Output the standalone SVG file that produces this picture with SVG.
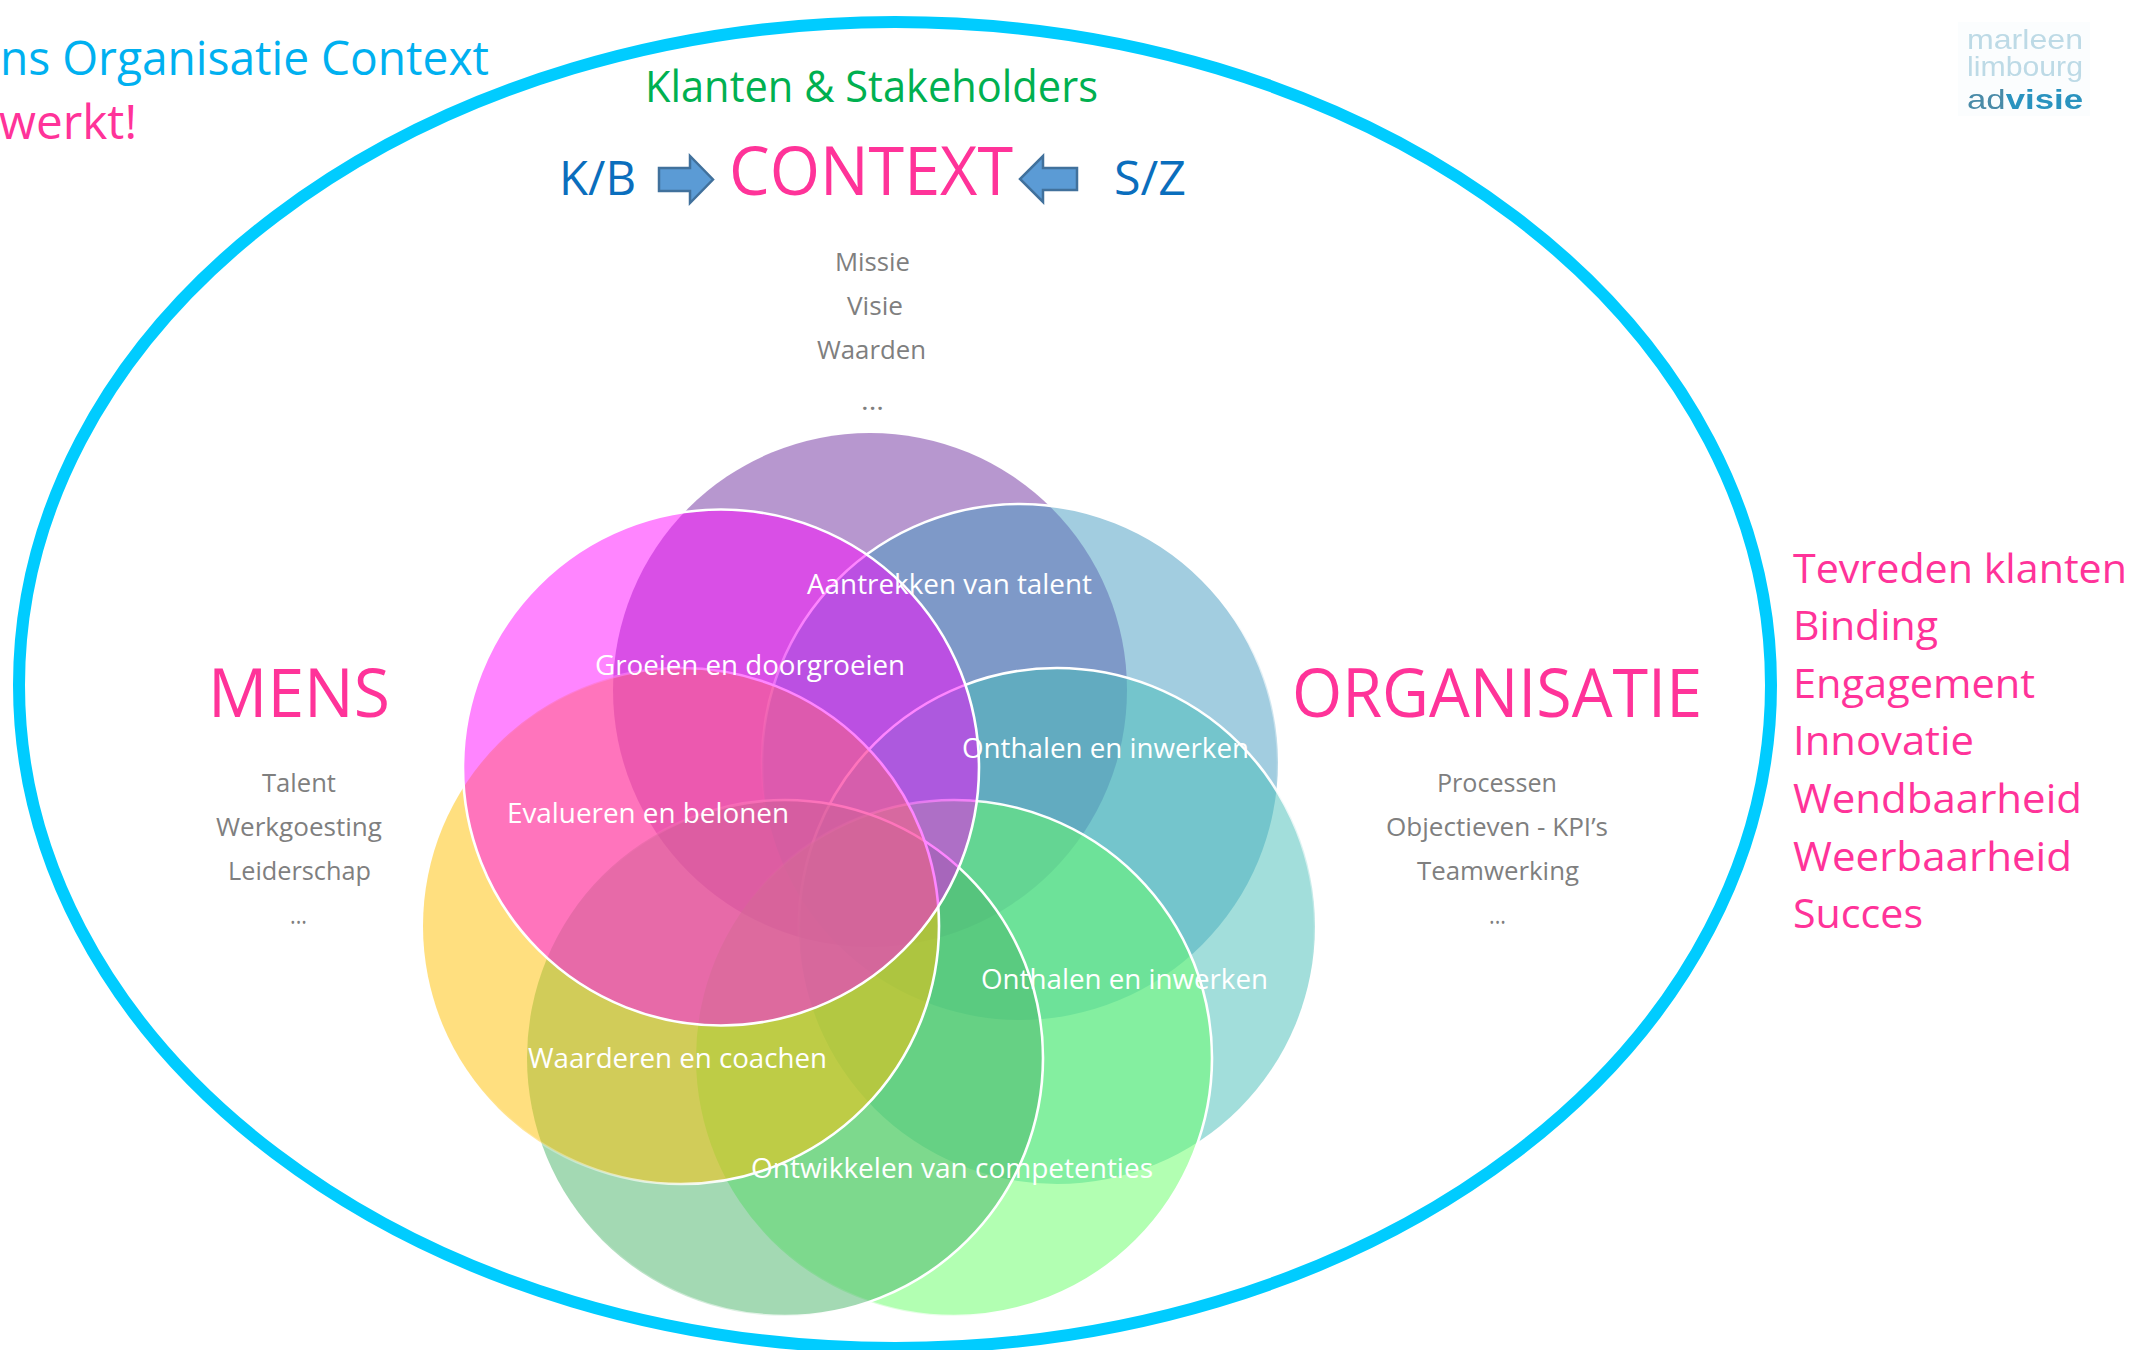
<svg xmlns="http://www.w3.org/2000/svg" width="2136" height="1350" viewBox="0 0 2136 1350">
<style>
text{font-family:"Open Sans","Noto Sans",sans-serif;font-variant-ligatures:none;}
.pink{fill:#ff3399}
.gray{fill:#7f7f7f;font-size:26px}
.white{fill:#fff;font-size:28px}
.big{font-size:68px}
.list{fill:#ff3399;font-size:41px}
.blue{fill:#0a6ebd;font-size:47px}
.arrow{fill:#5b9bd5;stroke:#41719c;stroke-width:2.5}
.c{stroke-width:2.600}
.logo{font-family:"Liberation Sans",sans-serif;font-size:28px}
</style>
<defs>
<linearGradient id="gv" x1="0" y1="0" x2="0" y2="1"><stop offset="0" stop-color="#fff"/><stop offset=".2" stop-color="#fff"/><stop offset=".58" stop-color="#fff" stop-opacity="0"/></linearGradient>
<linearGradient id="gh" x1="0" y1="0" x2="1" y2="0"><stop offset=".1" stop-color="#fff" stop-opacity="0"/><stop offset=".6" stop-color="#fff"/></linearGradient>
<filter id="soft"><feGaussianBlur stdDeviation="0.6"/></filter>
</defs>
<rect width="2136" height="1350" fill="#fff"/>
<g id="context-ellipse"><ellipse cx="895" cy="685" rx="876" ry="663" fill="none" stroke="#00ccff" stroke-width="12"/></g>
<g id="header">
<text class="pink" x="0" y="75" font-size="48" style="fill:#00b0f0" textLength="489" lengthAdjust="spacingAndGlyphs">ns Organisatie Context</text>
<text class="pink" x="-1" y="139" font-size="48" textLength="138" lengthAdjust="spacingAndGlyphs">werkt!</text>
<text x="645" y="102" font-size="44" fill="#00b050" textLength="453" lengthAdjust="spacingAndGlyphs">Klanten &amp; Stakeholders</text>
</g>
<g id="context">
<text class="pink big" x="729" y="195" textLength="284" lengthAdjust="spacingAndGlyphs">CONTEXT</text>
<text class="blue" x="559" y="195" textLength="77" lengthAdjust="spacingAndGlyphs">K/B</text>
<text class="blue" x="1114" y="195" textLength="72" lengthAdjust="spacingAndGlyphs">S/Z</text>
<polygon class="arrow" points="659,168 690,168 690,156 713,179.500 690,203 690,191 659,191"/>
<polygon class="arrow" points="1077,168 1043,168 1043,156 1020,179 1043,202 1043,190 1077,190"/>
<text class="gray" x="835" y="271" textLength="75" lengthAdjust="spacingAndGlyphs">Missie</text>
<text class="gray" x="847" y="315" textLength="56" lengthAdjust="spacingAndGlyphs">Visie</text>
<text class="gray" x="817" y="359" textLength="109" lengthAdjust="spacingAndGlyphs">Waarden</text>
<text class="gray" x="861" y="410" textLength="23" lengthAdjust="spacingAndGlyphs">...</text>
</g>
<g id="venn">
<circle id="c-purple" cx="870" cy="690" r="257" fill="#7030a0" fill-opacity=".5"/>
<circle id="c-blue" class="c" cx="1020" cy="762" r="258" fill="#459bc1" fill-opacity=".5" stroke="url(#gv)"/>
<circle id="c-teal" class="c" cx="1057" cy="926" r="258" fill="#45bdb7" fill-opacity=".5" stroke="url(#gv)"/>
<circle id="c-lightgreen" class="c" cx="954" cy="1058" r="258" fill="#66ff66" fill-opacity=".5" stroke="url(#gh)"/>
<circle id="c-sage" class="c" cx="785" cy="1058" r="258" fill="#47b367" fill-opacity=".5" stroke="url(#gh)"/>
<circle id="c-yellow" class="c" cx="681" cy="926" r="258" fill="#ffc000" fill-opacity=".5" stroke="url(#gh)"/>
<circle id="c-magenta" class="c" cx="721" cy="767.500" r="258" fill="#ff00ff" fill-opacity=".48" stroke="#fff"/>
</g>
<g id="venn-labels">
<text class="white" x="807" y="594" textLength="285" lengthAdjust="spacingAndGlyphs">Aantrekken van talent</text>
<text class="white" x="595" y="675" textLength="310" lengthAdjust="spacingAndGlyphs">Groeien en doorgroeien</text>
<text class="white" x="962" y="758" textLength="287" lengthAdjust="spacingAndGlyphs">Onthalen en inwerken</text>
<text class="white" x="507" y="823" textLength="282" lengthAdjust="spacingAndGlyphs">Evalueren en belonen</text>
<text class="white" x="981" y="989" textLength="287" lengthAdjust="spacingAndGlyphs">Onthalen en inwerken</text>
<text class="white" x="528" y="1068" textLength="299" lengthAdjust="spacingAndGlyphs">Waarderen en coachen</text>
<text class="white" x="751" y="1178" textLength="402" lengthAdjust="spacingAndGlyphs">Ontwikkelen van competenties</text>
</g>
<g id="mens">
<text class="pink big" x="208" y="717" textLength="182" lengthAdjust="spacingAndGlyphs">MENS</text>
<text class="gray" x="262" y="792" textLength="74" lengthAdjust="spacingAndGlyphs">Talent</text>
<text class="gray" x="216" y="836" textLength="166" lengthAdjust="spacingAndGlyphs">Werkgoesting</text>
<text class="gray" x="228" y="880" textLength="143" lengthAdjust="spacingAndGlyphs">Leiderschap</text>
<text class="gray" x="290" y="924" textLength="17" lengthAdjust="spacingAndGlyphs">...</text>
</g>
<g id="organisatie">
<text class="pink big" x="1292" y="717" textLength="410" lengthAdjust="spacingAndGlyphs">ORGANISATIE</text>
<text class="gray" x="1437" y="792" textLength="120" lengthAdjust="spacingAndGlyphs">Processen</text>
<text class="gray" x="1386" y="836" textLength="222" lengthAdjust="spacingAndGlyphs">Objectieven - KPI’s</text>
<text class="gray" x="1417" y="880" textLength="162" lengthAdjust="spacingAndGlyphs">Teamwerking</text>
<text class="gray" x="1489" y="924" textLength="17" lengthAdjust="spacingAndGlyphs">...</text>
</g>
<g id="results">
<text class="list" x="1793" y="583" textLength="334" lengthAdjust="spacingAndGlyphs">Tevreden klanten</text>
<text class="list" x="1793" y="640" textLength="145" lengthAdjust="spacingAndGlyphs">Binding</text>
<text class="list" x="1793" y="698" textLength="242" lengthAdjust="spacingAndGlyphs">Engagement</text>
<text class="list" x="1793" y="755" textLength="181" lengthAdjust="spacingAndGlyphs">Innovatie</text>
<text class="list" x="1793" y="813" textLength="289" lengthAdjust="spacingAndGlyphs">Wendbaarheid</text>
<text class="list" x="1793" y="871" textLength="279" lengthAdjust="spacingAndGlyphs">Weerbaarheid</text>
<text class="list" x="1793" y="928" textLength="130" lengthAdjust="spacingAndGlyphs">Succes</text>
</g>
<g id="logo" filter="url(#soft)">
<rect x="1958" y="22" width="132" height="94" fill="#fbfdfe"/>
<text class="logo" x="1967" y="49" fill="#bddae6" textLength="116" lengthAdjust="spacingAndGlyphs">marleen</text>
<text class="logo" x="1967" y="76" fill="#bddae6" textLength="116" lengthAdjust="spacingAndGlyphs">limbourg</text>
<text class="logo" x="1967" y="109" fill="#4a8ba8" textLength="116" lengthAdjust="spacingAndGlyphs">ad<tspan font-weight="bold" fill="#2a93bf">visie</tspan></text>
</g>
</svg>
